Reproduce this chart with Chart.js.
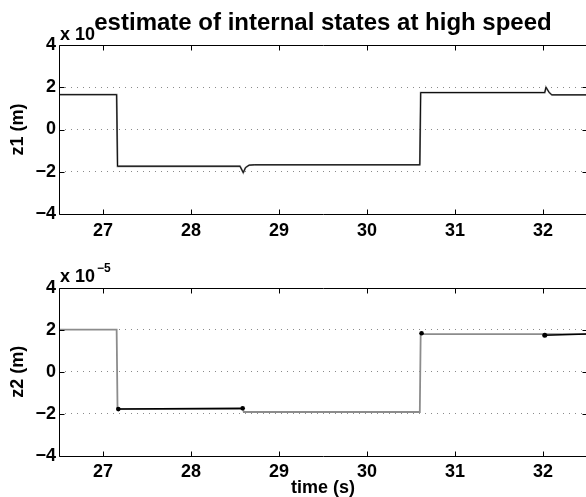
<!DOCTYPE html>
<html><head><meta charset="utf-8">
<script src="https://cdn.jsdelivr.net/npm/chart.js@4/dist/chart.umd.min.js"></script>
<style>
html,body{margin:0;padding:0;background:#fff;overflow:hidden;width:586px;height:497px}
#c1{position:absolute;left:0;top:0}
#c2{position:absolute;left:0;top:250px}
</style></head><body>
<canvas id="c1" width="600" height="250"></canvas>
<canvas id="c2" width="600" height="247"></canvas>
<script>
// ---- data (values in units of 1e-5 m) ----
const titleText = 'estimate of internal states at high speed';
const xLabel = 'time (s)';
const y1Label = 'z1 (m)';
const y2Label = 'z2 (m)';
const xTickValues = [27, 28, 29, 30, 31, 32];
const yTickValues = [-4, -2, 0, 2, 4];
const xMin = 26.5, xMax = 32.5;

const z1Time   = [26.5, 27.155, 27.165, 28.557, 28.594, 28.62, 28.66, 28.72, 30.600, 30.610, 32.020, 32.034, 32.07, 32.10, 32.5];
const z1Values = [1.65, 1.65, -1.74, -1.74, -2.04, -1.80, -1.69, -1.67, -1.67, 1.75, 1.75, 2.00, 1.75, 1.64, 1.64];

const z2TrueTime   = [26.5, 27.155, 27.165, 28.590, 28.600, 30.600, 30.610, 32.5];
const z2TrueValues = [2.0, 2.0, -1.78, -1.78, -1.92, -1.92, 1.79, 1.79];

const z2EstTime   = [27.174, 28.587, 28.59, 30.62, 30.63, 32.02, 32.5];
const z2EstValues = [-1.78, -1.74, null, 1.83, null, 1.74, 1.80];
const z2EstMarker = [2.3, 2.3, 0, 2.3, 0, 2.5, 0];

const pts = (t, v) => t.map((x, i) => ({x: x, y: v[i]}));

const FONT = 'Liberation Sans, Arial, Helvetica, sans-serif';
const minus = v => (v < 0 ? '\u2212' + Math.abs(v) : String(v));

const boxPlugin = {
  id: 'box',
  afterDraw(chart, args, opts) {
    const {ctx, chartArea: a, scales: {x, y}} = chart;
    ctx.save();
    ctx.strokeStyle = '#000';
    ctx.lineWidth = 1;
    const L = Math.round(a.left) + 0.5, R = Math.round(a.right) + 0.5;
    const T = Math.round(a.top) + 0.5, B = Math.round(a.bottom) + 0.5;
    ctx.beginPath();
    ctx.rect(L, T, R - L, B - T);
    xTickValues.forEach(v => {
      const px = Math.round(x.getPixelForValue(v)) + 0.5;
      ctx.moveTo(px, B); ctx.lineTo(px, B - 5);
      ctx.moveTo(px, T); ctx.lineTo(px, T + 5);
    });
    yTickValues.forEach(v => {
      const py = Math.round(y.getPixelForValue(v)) + 0.5;
      ctx.moveTo(L, py); ctx.lineTo(L + 5, py);
      ctx.moveTo(R, py); ctx.lineTo(R - 5, py);
    });
    ctx.stroke();
    ctx.fillStyle = '#000';
    ctx.textBaseline = 'alphabetic';
    ctx.textAlign = 'left';
    ctx.font = 'bold 18px ' + FONT;
    ctx.fillText('x 10', 60, a.top - 5.5);
    if (opts.showExp) {
      ctx.font = 'bold 12px ' + FONT;
      ctx.fillText('\u22125', 97, a.top - 16);
    }
    ctx.restore();
  }
};

function makeOptions(yLabel, top, xAxisH, showTitle, showXTitle) {
  return {
    responsive: false,
    devicePixelRatio: 1,
    animation: false,
    layout: {padding: {left: 0, right: 13, top: top, bottom: 0}},
    plugins: {
      legend: {display: false},
      tooltip: {enabled: false},
      title: {
        display: showTitle,
        text: titleText,
        fullSize: false,
        color: '#000',
        font: {family: FONT, size: 24, weight: 'bold', lineHeight: 1.2},
        padding: {top: 8.6, bottom: 7.6}
      },
      box: {showExp: !showTitle}
    },
    scales: {
      x: {
        type: 'linear', min: xMin, max: xMax,
        afterBuildTicks: s => { s.ticks = xTickValues.map(v => ({value: v})); },
        afterFit: s => { s.height = xAxisH; },
        grid: {display: false, drawTicks: false},
        border: {display: false},
        ticks: {
          color: '#000', padding: 6, maxRotation: 0, autoSkip: false,
          font: {family: FONT, size: 18, weight: 'bold', lineHeight: 1.2}
        },
        title: {
          display: showXTitle, text: xLabel, color: '#000',
          font: {family: FONT, size: 18, weight: 'bold', lineHeight: 1},
          padding: {top: 0, bottom: 0}
        }
      },
      y: {
        type: 'linear', min: -4, max: 4,
        afterBuildTicks: s => { s.ticks = yTickValues.map(v => ({value: v})); },
        afterFit: s => { s.width = 59; },
        grid: {
          display: true, drawTicks: false, lineWidth: 1,
          color: c => (Math.abs(c.tick.value) === 4 ? 'rgba(0,0,0,0)' : '#8a8a8a')
        },
        border: {display: false, dash: [1, 5]},
        ticks: {
          color: '#000', padding: 3,
          callback: v => minus(v),
          font: {family: FONT, size: 18, weight: 'bold', lineHeight: 1.2}
        },
        title: {
          display: true, text: yLabel, color: '#000',
          font: {family: FONT, size: 18, weight: 'bold', lineHeight: 1.2},
          padding: {top: 7, bottom: 0}
        }
      }
    }
  };
}

// dataset 0 is drawn on top in Chart.js, so the black estimate comes first
new Chart(document.getElementById('c1'), {
  type: 'line',
  data: {
    datasets: [
      {data: pts(z1Time, z1Values), borderColor: '#000', borderWidth: 0.9, pointRadius: 0, tension: 0, fill: false},
      {data: pts(z1Time, z1Values), borderColor: '#7a7a7a', borderWidth: 1.8, pointRadius: 0, tension: 0, fill: false}
    ]
  },
  options: makeOptions(y1Label, 0, 36, true, false),
  plugins: [boxPlugin]
});

new Chart(document.getElementById('c2'), {
  type: 'line',
  data: {
    datasets: [
      {data: pts(z2EstTime, z2EstValues), borderColor: '#000', borderWidth: 1.5, pointRadius: z2EstMarker,
       pointBackgroundColor: '#000', pointBorderColor: '#000', pointBorderWidth: 0, tension: 0, fill: false, spanGaps: false},
      {data: pts(z2TrueTime, z2TrueValues), borderColor: '#8c8c8c', borderWidth: 1.8, pointRadius: 0, tension: 0, fill: false}
    ]
  },
  options: makeOptions(y2Label, 37.7, 41.3, false, true),
  plugins: [boxPlugin]
});
</script>
</body></html>
